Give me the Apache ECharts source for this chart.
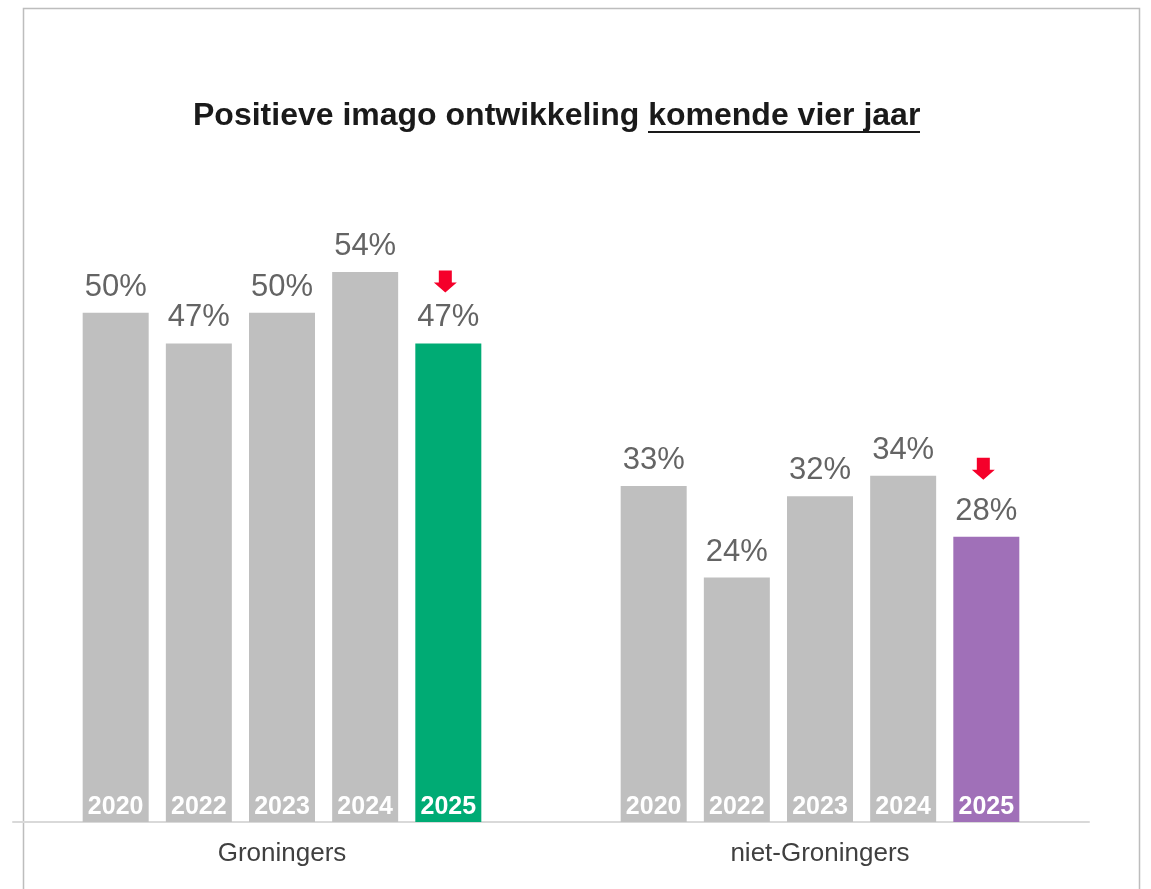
<!DOCTYPE html>
<html>
<head>
<meta charset="utf-8">
<script src="https://cdn.jsdelivr.net/npm/echarts@6/dist/echarts.min.js"></script>
<style>
  html, body { margin: 0; padding: 0; background: #fff; }
  #main { width: 1151px; height: 889px; }
</style>
</head>
<body>
<div id="main"></div>
<script>
// data
var groups = ['Groningers', 'niet-Groningers'];
var years = ['2020', '2022', '2023', '2024', '2025'];
var v2020 = [50, 33];
var v2022 = [47, 24];
var v2023 = [50, 32];
var v2024 = [54, 34];
var v2025 = [47, 28];
var colors2025 = ['#00ab74', '#a070b8'];
// arrows mark a drop vs 2024
var drops = [[0, 47], [1, 28]];

var values = [v2020, v2022, v2023, v2024, v2025];
var myChart = echarts.init(document.getElementById('main'));

var series = [];
years.forEach(function (y, i) {
  var isLast = i === years.length - 1;
  series.push({
    name: y,
    type: 'bar',
    xAxisIndex: 0,
    barWidth: 66,
    barGap: '26%',
    data: values[i].map(function (v, j) {
      return { value: v, itemStyle: { color: isLast ? colors2025[j] : '#bfbfbf' } };
    }),
    label: {
      show: true,
      position: 'top',
      distance: 10,
      formatter: '{c}%',
      fontFamily: 'Liberation Sans, Arial',
      fontSize: 31,
      color: '#646464'
    },
    markPoint: isLast ? {
      symbol: 'path://M5,0 L18,0 L18,12 L23,12 L11.5,22 L0,12 L5,12 Z',
      symbolSize: [23, 22],
      itemStyle: { color: '#f5002a' },
      label: { show: false },
      silent: true,
      data: [
        { coord: drops[0], symbolOffset: [-3, -62] },
        { coord: drops[1], symbolOffset: [-3, -68] }
      ]
    } : undefined
  });
  // same bars on a hidden axis, only to carry the year label
  series.push({
    name: y + '-label',
    type: 'bar',
    xAxisIndex: 1,
    barWidth: 66,
    barGap: '26%',
    silent: true,
    data: values[i],
    itemStyle: { color: 'rgba(0,0,0,0)' },
    label: {
      show: true,
      position: 'insideBottom',
      distance: 2,
      formatter: y,
      fontFamily: 'Liberation Sans, Arial',
      fontSize: 25,
      fontWeight: 'bold',
      color: '#ffffff'
    }
  });
});

var option = {
  animation: false,
  title: {
    text: 'Positieve imago ontwikkeling komende vier jaar',
    left: 193,
    top: 100,
    padding: 0,
    textStyle: {
      fontFamily: 'Liberation Sans, Arial',
      fontSize: 32,
      fontWeight: 'bold',
      color: '#1a1a1a'
    }
  },
  grid: {
    left: 13,
    right: 62,
    top: 211,
    bottom: 67
  },
  xAxis: [
    {
      type: 'category',
      data: groups,
      axisLine: { lineStyle: { color: '#d9d9d9', width: 2 } },
      axisTick: { show: false },
      axisLabel: {
        margin: 19,
        fontFamily: 'Liberation Sans, Arial',
        fontSize: 26,
        color: '#404040'
      }
    },
    {
      type: 'category',
      data: groups,
      show: false
    }
  ],
  yAxis: {
    type: 'value',
    min: 0,
    max: 60,
    show: false
  },
  graphic: [
    {
      type: 'rect',
      shape: { x: 23.5, y: 8.5, width: 1116, height: 1000 },
      style: { fill: 'none', stroke: '#bdbdbd', lineWidth: 1.5 },
      silent: true
    },
    {
      // underline under "komende vier jaar"
      type: 'line',
      shape: { x1: 648, y1: 132, x2: 920, y2: 132 },
      style: { stroke: '#1a1a1a', lineWidth: 2 },
      silent: true
    }
  ],
  series: series
};
myChart.setOption(option);
</script>
</body>
</html>
